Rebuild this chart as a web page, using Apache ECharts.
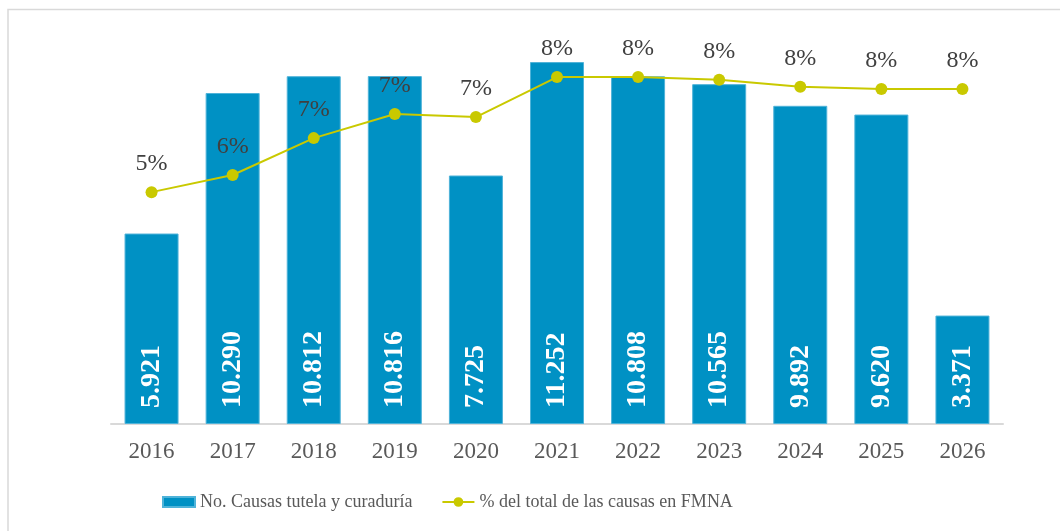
<!DOCTYPE html>
<html lang="es">
<head>
	<meta charset="UTF-8">
	<title>Causas tutela y curaduría</title>
	<script src="https://cdn.jsdelivr.net/npm/echarts@6/dist/echarts.min.js"></script>
	<style>
		html, body { margin: 0; padding: 0; background: #fff; }
	</style>
</head>
<body>
	<div id="main" style="width: 1060px; height: 531px;"></div>
	<script type="text/javascript">
	// datos
	var years = ['2016', '2017', '2018', '2019', '2020', '2021', '2022', '2023', '2024', '2025', '2026'];
	var causas = [5921, 10290, 10812, 10816, 7725, 11252, 10808, 10565, 9892, 9620, 3371];
	var porcentaje = [5.28, 5.67, 6.51, 7.06, 6.99, 7.9, 7.9, 7.84, 7.68, 7.63, 7.63];

	var serif = '"Liberation Serif", "DejaVu Serif", serif';
	// icono de leyenda: linea con circulo
	var lineIcon = 'path://M0,4 L33,4 L33,6 L0,6 Z M21.5,5 A5,5 0 1,1 11.5,5 A5,5 0 1,1 21.5,5 Z';

	var chart = echarts.init(document.getElementById('main'));
	var option = {
		animation: false,
		textStyle: { fontFamily: serif },
		graphic: [{
			type: 'rect',
			shape: { x: 8, y: 9.5, width: 1100, height: 600 },
			style: { fill: 'none', stroke: '#d9d9d9', lineWidth: 1.5 },
			silent: true
		}],
		grid: { left: 111, right: 57, top: 38, bottom: 107 },
		legend: {
			bottom: 15,
			left: 157,
			itemGap: 30,
			itemWidth: 32,
			itemHeight: 10,
			textStyle: { fontFamily: serif, fontSize: 18, color: '#595959' },
			data: [
				{ name: 'No. Causas tutela y curaduría', icon: 'rect' },
				{ name: '% del total de las causas en FMNA', icon: lineIcon }
			]
		},
		xAxis: {
			type: 'category',
			data: years,
			axisTick: { show: false },
			axisLine: { lineStyle: { color: '#d9d9d9', width: 2 } },
			axisLabel: { color: '#595959', fontSize: 23, margin: 16 }
		},
		yAxis: [
			{ type: 'value', min: 0, max: 12000, show: false, splitLine: { show: false } },
			{ type: 'value', min: 0, max: 8.79, show: false, splitLine: { show: false } }
		],
		series: [
			{
				name: 'No. Causas tutela y curaduría',
				type: 'bar',
				data: causas,
				barWidth: 54,
				itemStyle: { color: '#0091c4', borderColor: '#4fb3d9', borderWidth: 1 },
				label: {
					show: true,
					position: 'insideBottom',
					rotate: 90,
					align: 'left',
					verticalAlign: 'middle',
					distance: 16,
					color: '#fff',
					fontWeight: 'bold',
					fontSize: 28,
					fontFamily: serif,
					formatter: function (p) {
						return p.value.toString().replace(/(\d)(\d{3})$/, '$1.$2');
					}
				}
			},
			{
				name: '% del total de las causas en FMNA',
				type: 'line',
				yAxisIndex: 1,
				data: porcentaje,
				symbol: 'circle',
				symbolSize: 12,
				color: '#c9c900',
				lineStyle: { color: '#c9c900', width: 2 },
				itemStyle: { color: '#c9c900' },
				label: {
					show: true,
					position: 'top',
					distance: 10,
					color: '#404040',
					fontSize: 24,
					fontFamily: serif,
					formatter: function (p) {
						return Math.round(p.value) + '%';
					}
				}
			}
		]
	};
	chart.setOption(option);
	</script>
</body>
</html>
